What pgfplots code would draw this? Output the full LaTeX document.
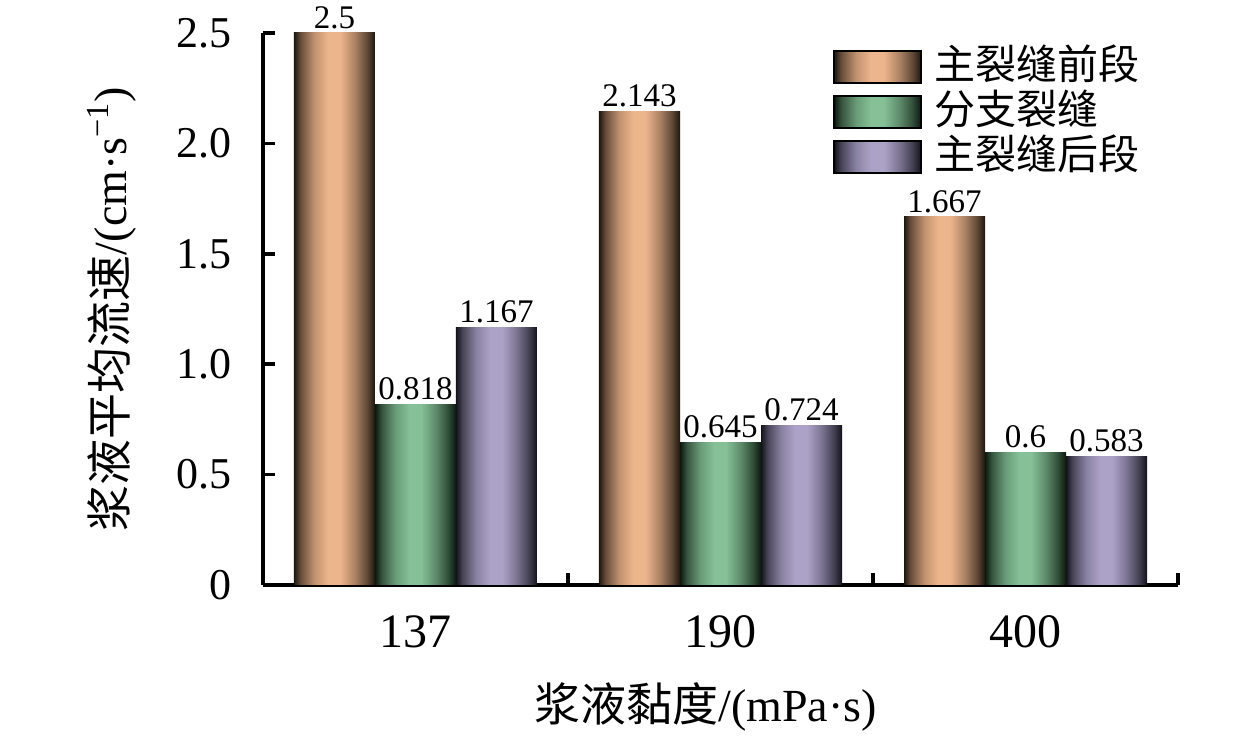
\documentclass[border=0pt]{standalone}
\usepackage{pgfplots}
\pgfplotsset{compat=1.18}
\usepackage{fontspec}
\setmainfont{Liberation Serif}
\newfontfamily\cjk{Noto Sans CJK SC}
\definecolor{peach}{RGB}{237,181,140}
\definecolor{peachD}{RGB}{30,22,14}
\definecolor{grn}{RGB}{133,192,150}
\definecolor{grnD}{RGB}{10,24,14}
\definecolor{prp}{RGB}{172,162,200}
\definecolor{prpD}{RGB}{18,18,26}
\colorlet{peach1}{peach!35!peachD}\colorlet{peach2}{peach!78!peachD}\colorlet{peach3}{peach!68!peachD}\colorlet{peach4}{peach!32!peachD}
\colorlet{grn1}{grn!35!grnD}\colorlet{grn2}{grn!78!grnD}\colorlet{grn3}{grn!68!grnD}\colorlet{grn4}{grn!32!grnD}
\colorlet{prp1}{prp!35!prpD}\colorlet{prp2}{prp!78!prpD}\colorlet{prp3}{prp!68!prpD}\colorlet{prp4}{prp!32!prpD}
\pgfdeclarehorizontalshading{peachsh}{100bp}{color(0bp)=(peachD); color(25bp)=(peachD); color(29bp)=(peach1); color(37.5bp)=(peach2); color(46bp)=(peach); color(53.5bp)=(peach); color(62.5bp)=(peach3); color(70bp)=(peach4); color(75bp)=(peachD); color(100bp)=(peachD)}
\pgfdeclarehorizontalshading{grnsh}{100bp}{color(0bp)=(grnD); color(25bp)=(grnD); color(29bp)=(grn1); color(37.5bp)=(grn2); color(46bp)=(grn); color(53.5bp)=(grn); color(62.5bp)=(grn3); color(70bp)=(grn4); color(75bp)=(grnD); color(100bp)=(grnD)}
\pgfdeclarehorizontalshading{prpsh}{100bp}{color(0bp)=(prpD); color(25bp)=(prpD); color(29bp)=(prp1); color(37.5bp)=(prp2); color(46bp)=(prp); color(53.5bp)=(prp); color(62.5bp)=(prp3); color(70bp)=(prp4); color(75bp)=(prpD); color(100bp)=(prpD)}
\pgfplotsset{
  barA/.style={ybar, bar width=40.5pt, bar shift=-40.5pt, draw=none, shading=peachsh, every node near coord/.append style={xshift=-40.5pt}},
  barB/.style={ybar, bar width=40.5pt, bar shift=0pt, draw=none, shading=grnsh},
  barC/.style={ybar, bar width=40.5pt, bar shift=40.5pt, draw=none, shading=prpsh, every node near coord/.append style={xshift=40.5pt}},
}
\begin{document}
\begin{tikzpicture}
\begin{axis}[
  at={(0,0)}, anchor=south west,
  scale only axis,
  width=457.5pt, height=276pt,
  xmin=-0.5, xmax=2.5, ymin=0, ymax=2.5,
  axis lines=left,
  axis line style={-, line width=1.8pt},
  tick align=inside,
  tick style={line width=1.8pt, black},
  major tick length=6pt,
  xtick={0.5,1.5,2.5}, xticklabels={},
  extra x ticks={0,1,2}, extra x tick labels={137,190,400},
  extra x tick style={major tick length=0pt},
  x tick label style={font=\fontsize{24}{24}\selectfont, yshift=-12pt},
  ytick={0,0.5,1,1.5,2,2.5}, yticklabels={0,0.5,1.0,1.5,2.0,2.5},
  y tick label style={font=\fontsize{22}{22}\selectfont, xshift=-12pt},
  /pgf/number format/assume math mode=true,
  xlabel={{\cjk 浆液黏度}/(mPa·s)},
  xlabel style={font=\fontsize{23}{23}\selectfont, at={([xshift=-7.5pt,yshift=-61pt]rel axis cs:0.5,0)}, anchor=center},
  ylabel={{\cjk 浆液平均流速}/(cm·s\textsuperscript{−1})},
  ylabel style={font=\fontsize{23}{23}\selectfont, at={([xshift=-60pt]rel axis cs:0,0.5)}, anchor=south, rotate=0},
  nodes near coords,
  point meta=explicit symbolic,
  nodes near coords style={font=\fontsize{16.5}{16.5}\selectfont, inner sep=2pt, black},
  legend image code/.code={\draw[#1, draw=black, line width=0.8pt] (0pt,-8pt) rectangle (43.5pt,8pt);},
  legend style={draw=none, fill=none, at={(rel axis cs:0.623,0.975)}, anchor=north west, inner sep=0pt, row sep=2.5pt,
    font=\fontsize{20.5}{20.5}\selectfont\cjk,
    nodes={inner xsep=6pt, inner ysep=0pt, text height=16pt, text depth=4pt}},
  legend cell align=left,
]
\addplot[barA] coordinates {(0,2.5) [2.5]};
\addlegendentry{主裂缝前段}
\addplot[barB] coordinates {(0,0.818) [0.818]};
\addlegendentry{分支裂缝}
\addplot[barC] coordinates {(0,1.167) [1.167]};
\addlegendentry{主裂缝后段}
\addplot[barA, forget plot] coordinates {(1,2.143) [2.143]};
\addplot[barA, forget plot] coordinates {(2,1.667) [1.667]};
\addplot[barB, forget plot] coordinates {(1,0.645) [0.645]};
\addplot[barB, forget plot] coordinates {(2,0.6) [0.6]};
\addplot[barC, forget plot] coordinates {(1,0.724) [0.724]};
\addplot[barC, forget plot] coordinates {(2,0.583) [0.583]};
\end{axis}
\pgfresetboundingbox
\path (-131.5pt,-76.5pt) rectangle (498pt,292.5pt);
\end{tikzpicture}
\end{document}
